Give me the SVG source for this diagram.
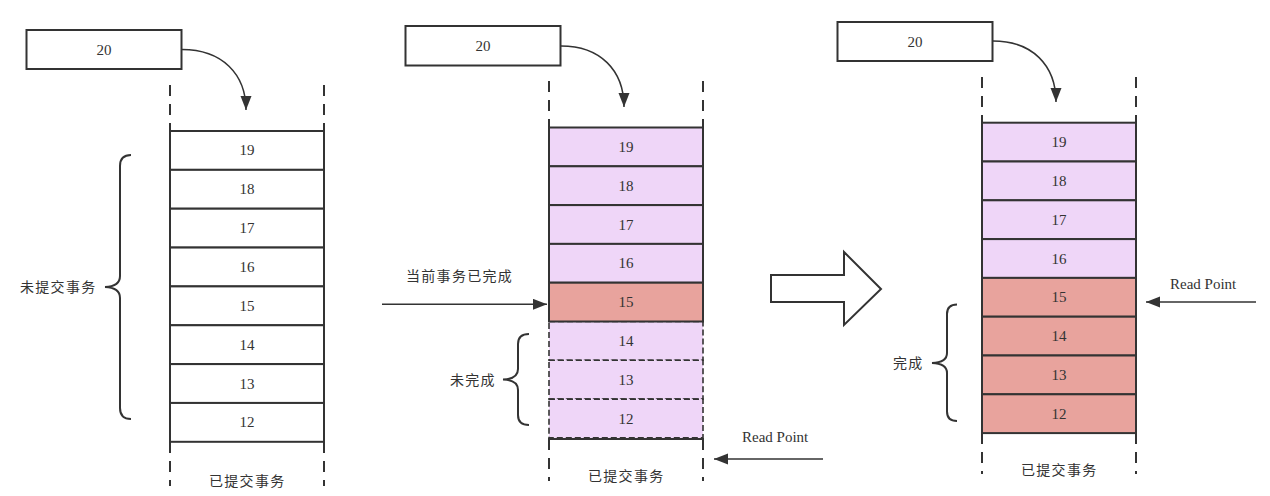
<svg xmlns="http://www.w3.org/2000/svg" width="1270" height="496" viewBox="0 0 1270 496">
  <style>
    .box { fill: #ffffff; stroke: #333333; stroke-width: 2; }
    .cell { fill: #ffffff; stroke: #333333; stroke-width: 2; }
    .pending { fill: #efd6f8; stroke: #333333; stroke-width: 2; }
    .pending-dash { fill: #efd6f8; stroke: #333333; stroke-width: 1.6; stroke-dasharray: 6 3; }
    .done { fill: #e8a39d; stroke: #333333; stroke-width: 2; }
    .rail { stroke: #333333; stroke-width: 2; stroke-dasharray: 11 8; fill: none; }
    .num { font-family: "Liberation Serif", "Times New Roman", serif; font-size: 15px; fill: #333333; text-anchor: middle; }
    .lbl { font-family: "Noto Sans CJK SC", "Noto Sans", sans-serif; font-size: 14px; fill: #333333; letter-spacing: 1.3px; }
    .en { font-family: "Liberation Serif", "Times New Roman", serif; font-size: 15px; fill: #333333; }
    .brace { fill: none; stroke: #333333; stroke-width: 2; }
    .link { fill: none; stroke: #333333; stroke-width: 1.5; }
    .hollow { fill: #ffffff; stroke: #333333; stroke-width: 2; stroke-linejoin: miter; }
  </style>
  <defs>
    <marker id="head" markerUnits="userSpaceOnUse" markerWidth="16" markerHeight="12" refX="14" refY="5.5" orient="auto">
      <path d="M0,0 L14,5.5 L0,11 Z" fill="#333333"/>
    </marker>
  </defs>

  <!-- Stage 1: all transactions still open -->
  <g id="stage1">
    <g id="s1-new">
      <rect class="box" x="26.5" y="30" width="155" height="39"/>
      <text class="num" x="104" y="54.5">20</text>
    </g>
    <g id="s1-rails">
      <line class="rail" x1="170" y1="85" x2="170" y2="131"/>
      <line class="rail" x1="324" y1="85" x2="324" y2="131"/>
      <line class="rail" x1="170" y1="442" x2="170" y2="486"/>
      <line class="rail" x1="324" y1="442" x2="324" y2="486"/>
    </g>
    <g id="s1-cells">
      <rect class="cell" x="170" y="131" width="154" height="38.85"/>
      <rect class="cell" x="170" y="169.85" width="154" height="38.85"/>
      <rect class="cell" x="170" y="208.7" width="154" height="38.85"/>
      <rect class="cell" x="170" y="247.55" width="154" height="38.85"/>
      <rect class="cell" x="170" y="286.4" width="154" height="38.85"/>
      <rect class="cell" x="170" y="325.25" width="154" height="38.85"/>
      <rect class="cell" x="170" y="364.1" width="154" height="38.85"/>
      <rect class="cell" x="170" y="402.95" width="154" height="38.85"/>
      <text class="num" x="247" y="155.4">19</text>
      <text class="num" x="247" y="194.3">18</text>
      <text class="num" x="247" y="233.1">17</text>
      <text class="num" x="247" y="272">16</text>
      <text class="num" x="247" y="310.8">15</text>
      <text class="num" x="247" y="349.7">14</text>
      <text class="num" x="247" y="388.5">13</text>
      <text class="num" x="247" y="427.4">12</text>
    </g>
    <g id="s1-open">
      <path class="brace" d="M131,155 Q120,155 120,166 L120,276 Q120,286.5 105,287 Q120,287.5 120,298 L120,408 Q120,419 131,419"/>
      <text class="lbl" x="20" y="292">未提交事务</text>
    </g>
    <text class="lbl" x="209" y="486">已提交事务</text>
  </g>

  <!-- Stage 2: transaction 15 finished, 12-14 still running -->
  <g id="stage2">
    <g id="s2-new">
      <rect class="box" x="405.5" y="26" width="155" height="39.5"/>
      <text class="num" x="483" y="51">20</text>
    </g>
    <g id="s2-rails">
      <line class="rail" x1="549" y1="81" x2="549" y2="127.5"/>
      <line class="rail" x1="703" y1="81" x2="703" y2="127.5"/>
      <line class="rail" x1="549" y1="439" x2="549" y2="481"/>
      <line class="rail" x1="703" y1="439" x2="703" y2="481"/>
    </g>
    <g id="s2-cells">
      <rect class="pending" x="549" y="127.5" width="154" height="38.8"/>
      <rect class="pending" x="549" y="166.3" width="154" height="38.8"/>
      <rect class="pending" x="549" y="205.1" width="154" height="38.8"/>
      <rect class="pending" x="549" y="243.9" width="154" height="38.8"/>
      <rect class="pending-dash" x="549" y="321.5" width="154" height="38.8"/>
      <rect class="pending-dash" x="549" y="360.3" width="154" height="38.8"/>
      <rect class="pending-dash" x="549" y="399.1" width="154" height="38.8"/>
      <line x1="548" y1="439" x2="704" y2="439" stroke="#333333" stroke-width="2"/>
      <rect class="done" x="549" y="282.7" width="154" height="38.8"/>
      <text class="num" x="626" y="151.9">19</text>
      <text class="num" x="626" y="190.7">18</text>
      <text class="num" x="626" y="229.5">17</text>
      <text class="num" x="626" y="268.3">16</text>
      <text class="num" x="626" y="307.1">15</text>
      <text class="num" x="626" y="345.9">14</text>
      <text class="num" x="626" y="384.7">13</text>
      <text class="num" x="626" y="423.5">12</text>
    </g>
    <g id="s2-finished">
      <text class="lbl" x="406" y="281">当前事务已完成</text>
    </g>
    <g id="s2-running">
      <path class="brace" d="M529,334 Q518,334 518,344 L518,369 Q518,379 503,379.5 Q518,380 518,390 L518,415 Q518,425 529,425"/>
      <text class="lbl" x="450" y="385">未完成</text>
    </g>
    <g id="s2-readpoint">
      <text class="en" x="742" y="442">Read Point</text>
    </g>
    <text class="lbl" x="588" y="481">已提交事务</text>
  </g>

  <!-- Transition between stages -->
  <g id="transition">
    <path class="hollow" d="M771,275 L844,275 L844,252 L881,289 L844,325 L844,302 L771,302 Z"/>
  </g>

  <!-- Stage 3: 12-15 finished, read point moves up -->
  <g id="stage3">
    <g id="s3-new">
      <rect class="box" x="837.5" y="22" width="155" height="39"/>
      <text class="num" x="915" y="46.5">20</text>
    </g>
    <g id="s3-rails">
      <line class="rail" x1="982" y1="77" x2="982" y2="122.7"/>
      <line class="rail" x1="1136" y1="77" x2="1136" y2="122.7"/>
      <line class="rail" x1="982" y1="433" x2="982" y2="474"/>
      <line class="rail" x1="1136" y1="433" x2="1136" y2="474"/>
    </g>
    <g id="s3-cells">
      <rect class="pending" x="982" y="122.7" width="154" height="38.8"/>
      <rect class="pending" x="982" y="161.5" width="154" height="38.8"/>
      <rect class="pending" x="982" y="200.3" width="154" height="38.8"/>
      <rect class="pending" x="982" y="239.1" width="154" height="38.8"/>
      <rect class="done" x="982" y="277.9" width="154" height="38.8"/>
      <rect class="done" x="982" y="316.7" width="154" height="38.8"/>
      <rect class="done" x="982" y="355.5" width="154" height="38.8"/>
      <rect class="done" x="982" y="394.3" width="154" height="38.8"/>
      <text class="num" x="1059" y="147.1">19</text>
      <text class="num" x="1059" y="185.9">18</text>
      <text class="num" x="1059" y="224.7">17</text>
      <text class="num" x="1059" y="263.5">16</text>
      <text class="num" x="1059" y="302.3">15</text>
      <text class="num" x="1059" y="341.1">14</text>
      <text class="num" x="1059" y="379.9">13</text>
      <text class="num" x="1059" y="418.7">12</text>
    </g>
    <g id="s3-finished">
      <path class="brace" d="M957,304.5 Q947,304.5 947,314 L947,353 Q947,362.5 932,363 Q947,363.5 947,373 L947,411.5 Q947,421 957,421"/>
      <text class="lbl" x="893" y="368">完成</text>
    </g>
    <g id="s3-readpoint">
      <text class="en" x="1170" y="288.5">Read Point</text>
    </g>
    <text class="lbl" x="1021" y="475">已提交事务</text>
  </g>

  <!-- Connectors -->
  <g id="connectors">
    <path class="link" d="M182,49.5 C222,49.5 246,74 246,110" marker-end="url(#head)"/>
    <path class="link" d="M561,46 C600,46 624,70 624,107" marker-end="url(#head)"/>
    <path class="link" d="M993,41 C1032,41 1056,65 1056,102" marker-end="url(#head)"/>
    <line class="link" x1="382" y1="304.3" x2="547" y2="304.3" marker-end="url(#head)"/>
    <line class="link" x1="823" y1="459" x2="714" y2="459" marker-end="url(#head)"/>
    <line class="link" x1="1256" y1="302" x2="1146" y2="302" marker-end="url(#head)"/>
  </g>
</svg>
